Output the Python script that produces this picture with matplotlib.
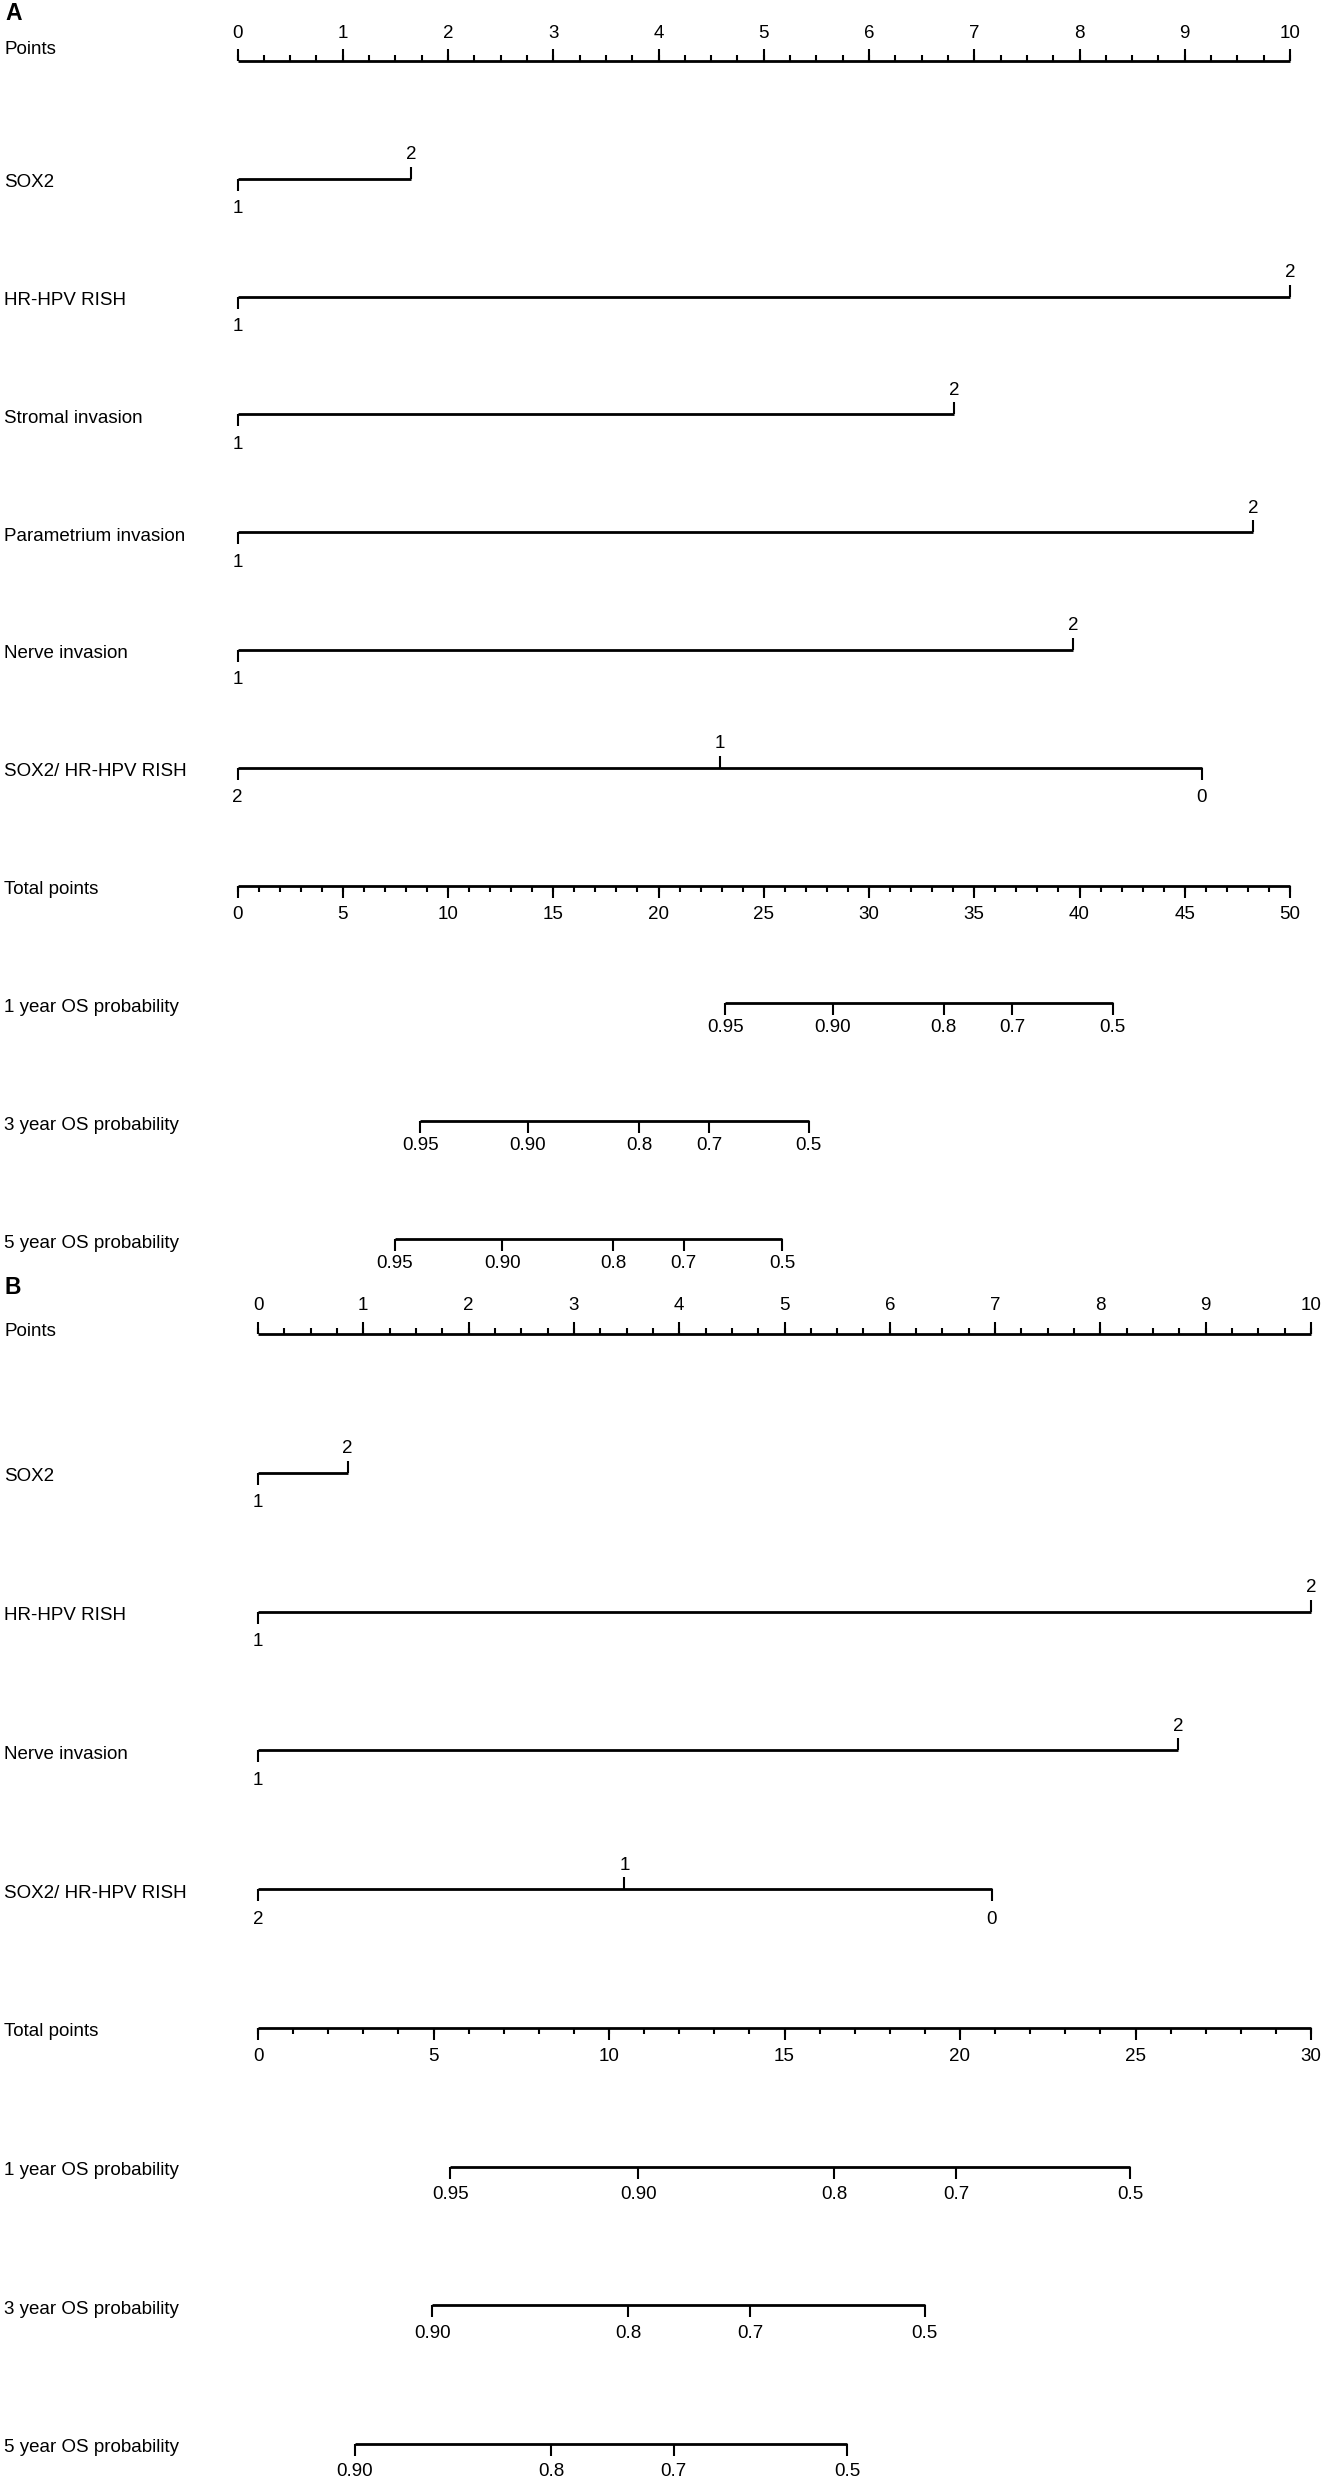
import matplotlib
matplotlib.use('Agg')
import matplotlib.pyplot as plt
from matplotlib import transforms
from matplotlib.markers import TICKUP, TICKDOWN

plt.rcParams['font.family'] = ['Liberation Sans', 'DejaVu Sans']

W, H, DPI = 1326, 2481, 100
FS = 13.5
LW = 2.0      # axis line width (pt)
TLW = 1.5     # tick width (pt)
MAJ = 8.5     # major tick length (pt)
MIN = 4.5     # minor tick length (pt)

# ---------------- data ----------------
points_major = list(range(0, 11))
points_minor = [i / 4 for i in range(0, 41)]

prob_labels_5 = ['0.95', '0.90', '0.8', '0.7', '0.5']
prob_labels_4 = ['0.90', '0.8', '0.7', '0.5']

# panel A
a_sox2 = [0, 1.65]
a_sox2_lab = ['1', '2']
a_hpv = [0, 10]
a_hpv_lab = ['1', '2']
a_stromal = [0, 6.81]
a_stromal_lab = ['1', '2']
a_param = [0, 9.65]
a_param_lab = ['1', '2']
a_nerve = [0, 7.94]
a_nerve_lab = ['1', '2']
a_combo = [0, 4.58, 9.16]
a_combo_lab = ['2', '1', '0']
a_total_max = 50
a_os1 = [23.18, 28.27, 33.55, 36.8, 41.58]
a_os3 = [8.68, 13.79, 19.09, 22.42, 27.13]
a_os5 = [7.46, 12.58, 17.86, 21.19, 25.89]

# panel B
b_sox2 = [0, 0.85]
b_sox2_lab = ['1', '2']
b_hpv = [0, 10]
b_hpv_lab = ['1', '2']
b_nerve = [0, 8.74]
b_nerve_lab = ['1', '2']
b_combo = [0, 3.48, 6.97]
b_combo_lab = ['2', '1', '0']
b_total_max = 30
b_os1 = [5.48, 10.83, 16.42, 19.89, 24.84]
b_os3 = [4.97, 10.55, 14.03, 18.99]
b_os5 = [2.76, 8.35, 11.84, 16.78]

px = 72 / DPI  # pixel -> point


def row_label(fig, ax, y, text, dy=-4):
    tr = transforms.blended_transform_factory(fig.transFigure, ax.transData)
    ax.annotate(text, xy=(4 / W, y), xycoords=tr, xytext=(0, dy * px),
                textcoords='offset points', ha='left', va='center',
                fontsize=FS, annotation_clip=False)


def tick_text(ax, x, y, s, dy):
    ax.annotate(s, xy=(x, y), xycoords='data', xytext=(0, dy * px),
                textcoords='offset points', ha='center', va='center',
                fontsize=FS, annotation_clip=False)


def hline(ax, y, x0, x1):
    ax.plot([x0, x1], [y, y], color='black', lw=LW, solid_capstyle='butt',
            clip_on=False)


def ticks(ax, xs, y, marker, ms):
    ax.plot(xs, [y] * len(xs), ls='', marker=marker, ms=ms, mew=TLW,
            color='black', clip_on=False)


def points_axis(ax, y):
    hline(ax, y, 0, 10)
    ticks(ax, points_minor, y, TICKUP, MIN)
    ticks(ax, points_major, y, TICKUP, MAJ)
    for v in points_major:
        tick_text(ax, v, y, str(v), 28)


def cat_axis(ax, y, pts, labels):
    hline(ax, y, min(pts), max(pts))
    for i, (p, lab) in enumerate(zip(pts, labels)):
        if i % 2 == 0:
            ticks(ax, [p], y, TICKDOWN, MAJ)
            tick_text(ax, p, y, lab, -30)
        else:
            ticks(ax, [p], y, TICKUP, MAJ)
            tick_text(ax, p, y, lab, 24)


def total_axis(ax, y, tmax):
    sc = 10 / tmax
    hline(ax, y, 0, 10)
    minor = [v * sc for v in range(0, tmax + 1)]
    major = list(range(0, tmax + 1, 5))
    ticks(ax, minor, y, TICKDOWN, MIN)
    ticks(ax, [v * sc for v in major], y, TICKDOWN, MAJ)
    for v in major:
        tick_text(ax, v * sc, y, str(v), -29)


def prob_axis(ax, y, totals, labels, tmax, dy):
    sc = 10 / tmax
    xs = [t * sc for t in totals]
    hline(ax, y, min(xs), max(xs))
    ticks(ax, xs, y, TICKDOWN, MAJ)
    for x, lab in zip(xs, labels):
        tick_text(ax, x, y, lab, dy)


def make_axes(fig, x0, x1, ytop, ybot, nrows):
    ax = fig.add_axes([x0 / W, 1 - ybot / H, (x1 - x0) / W, (ybot - ytop) / H])
    ax.set_xlim(0, 10)
    ax.set_ylim(nrows - 1, 0)
    ax.axis('off')
    return ax


fig = plt.figure(figsize=(W / DPI, H / DPI), dpi=DPI)

# ---------------- panel A ----------------
axA = make_axes(fig, 237.5, 1290, 61, 1239, 11)
fig.text(5 / W, 1 - 14 / H, 'A', fontsize=16.5, fontweight='bold',
         ha='left', va='center')
row_label(fig, axA, 0, 'Points', dy=12)
points_axis(axA, 0)
a_cats = [('SOX2', a_sox2, a_sox2_lab),
          ('HR-HPV RISH', a_hpv, a_hpv_lab),
          ('Stromal invasion', a_stromal, a_stromal_lab),
          ('Parametrium invasion', a_param, a_param_lab),
          ('Nerve invasion', a_nerve, a_nerve_lab),
          ('SOX2/ HR-HPV RISH', a_combo, a_combo_lab)]
for i, (name, pts, labs) in enumerate(a_cats, start=1):
    row_label(fig, axA, i, name)
    cat_axis(axA, i, pts, labs)
row_label(fig, axA, 7, 'Total points')
total_axis(axA, 7, a_total_max)
for i, (name, vals) in enumerate([('1 year OS probability', a_os1),
                                   ('3 year OS probability', a_os3),
                                   ('5 year OS probability', a_os5)], start=8):
    row_label(fig, axA, i, name)
    prob_axis(axA, i, vals, prob_labels_5, a_total_max, -24)

# ---------------- panel B ----------------
axB = make_axes(fig, 258, 1311, 1334, 2444, 9)
fig.text(5 / W, 1 - 1287 / H, 'B', fontsize=16.5, fontweight='bold',
         ha='left', va='center')
row_label(fig, axB, 0, 'Points', dy=3)
points_axis(axB, 0)
b_cats = [('SOX2', b_sox2, b_sox2_lab),
          ('HR-HPV RISH', b_hpv, b_hpv_lab),
          ('Nerve invasion', b_nerve, b_nerve_lab),
          ('SOX2/ HR-HPV RISH', b_combo, b_combo_lab)]
for i, (name, pts, labs) in enumerate(b_cats, start=1):
    row_label(fig, axB, i, name)
    cat_axis(axB, i, pts, labs)
row_label(fig, axB, 5, 'Total points')
total_axis(axB, 5, b_total_max)
b_probs = [('1 year OS probability', b_os1, prob_labels_5),
           ('3 year OS probability', b_os3, prob_labels_4),
           ('5 year OS probability', b_os5, prob_labels_4)]
for i, (name, vals, labs) in enumerate(b_probs, start=6):
    row_label(fig, axB, i, name)
    prob_axis(axB, i, vals, labs, b_total_max, -28)

fig.savefig('out.png', dpi=DPI, facecolor='white')
